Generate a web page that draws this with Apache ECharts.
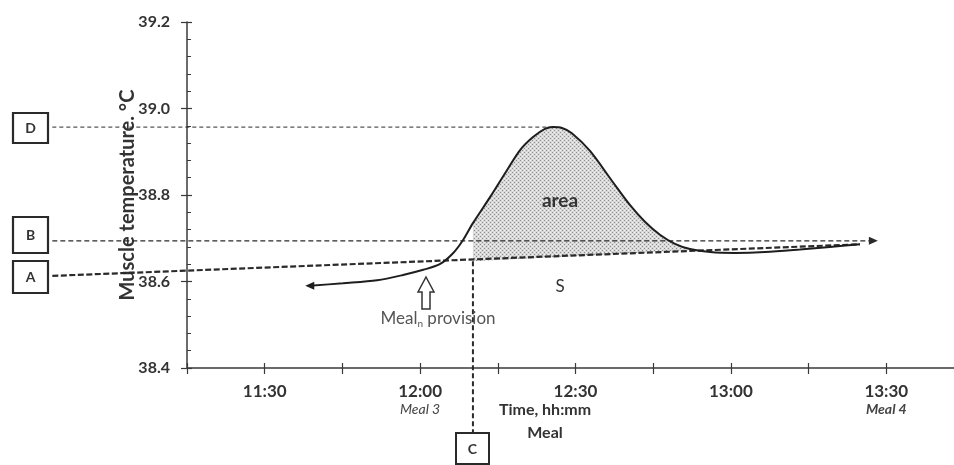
<!DOCTYPE html>
<html><head><meta charset="utf-8">
<script src="https://cdn.jsdelivr.net/npm/echarts@6/dist/echarts.min.js"></script>
<style>html,body{margin:0;padding:0;background:#fff}#c{width:954px;height:465px}</style>
</head><body><div id="c"></div>
<script>
// Times are minutes since midnight (675 = 11:15)
const curveTimes  = [698.7, 705.1, 711.7, 716.7, 720.6, 723.8, 726.4, 728.3, 730.2, 733.5, 736.8, 739.3, 741.8, 744.1, 745.7, 747.4, 749.3, 752.8, 757.2, 760.5, 763.4, 766.3, 769.2, 772.1, 776.0, 780.8, 786.6, 793.3, 799.1, 804.9];
const curveValues = [38.590, 38.596, 38.603, 38.615, 38.627, 38.640, 38.666, 38.696, 38.735, 38.795, 38.858, 38.904, 38.934, 38.953, 38.957, 38.955, 38.943, 38.902, 38.830, 38.777, 38.738, 38.708, 38.687, 38.675, 38.668, 38.666, 38.668, 38.674, 38.680, 38.686];
const baselineTimes  = [649, 804.9];      // line A -> S
const baselineValues = [38.613, 38.686];
const levelBTimes = [649, 807.5];
const levelBValue = 38.694;
const levelDTimes = [649, 745.7];
const levelDValue = 38.957;
const cTime = 730.2;
const cValues = [38.647, 38.25];
const shadeRange = [730.2, 772.1];
const shadeBaseValues = [38.647, 38.672];
const tickLabelTimes = [690, 720, 750, 780, 810];
const tickLabels = ['11:30', '12:00', '12:30', '13:00', '13:30'];
const mealNotes = ['', 'Meal 3', '', '', 'Meal 4'];

const FONT = 'Lato, "Open Sans", sans-serif';
const DARK = '#333333';
const AX = '#3a3a3a';

// layout
const W = 954, GL = 187, GR = -10, GT = 22, GB = 97;
const X_MIN = 675, X_MAX = 825, X_EXT_MIN = 645;
const pxPerMin = (W - GR - GL) / (X_MAX - X_MIN);
const GL_EXT = GL - (X_MIN - X_EXT_MIN) * pxPerMin;

// stipple pattern
const pc = document.createElement('canvas');
pc.width = 4; pc.height = 4;
const pctx = pc.getContext('2d');
pctx.fillStyle = '#d8d8d8'; pctx.fillRect(0, 0, 4, 4);
pctx.fillStyle = '#8e8e8e'; pctx.fillRect(0, 0, 1, 1); pctx.fillRect(2, 2, 1, 1);
pctx.fillStyle = '#f2f2f2'; pctx.fillRect(2, 0, 1, 1); pctx.fillRect(0, 2, 1, 1);
const pattern = { image: pc, repeat: 'repeat' };

const chart = echarts.init(document.getElementById('c'));

function xLabel(v) {
  const i = tickLabelTimes.findIndex(t => Math.abs(t - v) < 0.01);
  if (i < 0) return '';
  let s = '{t|' + tickLabels[i] + '}';
  if (mealNotes[i]) s += '\n{' + (i === 4 ? 'm4' : 'm') + '|' + mealNotes[i] + '}';
  else s += '\n{m| }';
  return s;
}

const curveData = curveTimes.map((t, i) => [t, curveValues[i]]);
const hiddenAxis = { show: false, axisLine: { show: false }, axisTick: { show: false }, axisLabel: { show: false }, splitLine: { show: false } };

chart.setOption({
  animation: false,
  backgroundColor: '#fff',
  grid: [
    { left: GL, right: GR, top: GT, bottom: GB, containLabel: false, outerBoundsMode: 'none' },
    { left: GL_EXT, right: GR, top: GT, bottom: GB, containLabel: false, outerBoundsMode: 'none' }
  ],
  xAxis: [
    {
      type: 'value', min: X_MIN, max: X_MAX, interval: 15, position: 'bottom', gridIndex: 0,
      axisLine: { show: true, lineStyle: { color: AX, width: 1.5 } },
      axisTick: { show: true, inside: false, length: 6, lineStyle: { color: AX, width: 1.2 } },
      axisLabel: {
        margin: 13, formatter: xLabel, showMinLabel: true, showMaxLabel: true, hideOverlap: false,
        rich: {
          t: { fontFamily: FONT, fontWeight: 'bold', fontSize: 17, color: DARK, lineHeight: 21 },
          m: { fontFamily: FONT, fontStyle: 'italic', fontSize: 14, color: '#444', lineHeight: 14 },
          m4: { fontFamily: FONT, fontStyle: 'italic', fontWeight: 'bold', fontSize: 14, color: '#444', lineHeight: 14 }
        }
      },
      splitLine: { show: false }
    },
    {
      type: 'value', min: X_MIN, max: X_MAX, interval: 15, position: 'bottom', gridIndex: 0,
      axisLine: { show: false },
      axisTick: { show: true, inside: true, length: 5, lineStyle: { color: AX, width: 1.2 } },
      axisLabel: { show: false },
      splitLine: { show: false }
    },
    Object.assign({ type: 'value', min: X_EXT_MIN, max: X_MAX, interval: 15, gridIndex: 1 }, hiddenAxis)
  ],
  yAxis: [
    {
      type: 'value', min: 38.4, max: 39.2, interval: 0.2, position: 'left', gridIndex: 0,
      axisLine: { show: true, lineStyle: { color: AX, width: 1.5 } },
      axisTick: { show: true, inside: false, length: 6, lineStyle: { color: AX, width: 1.2 } },
      axisLabel: { margin: 17, formatter: v => v.toFixed(1), fontFamily: FONT, fontWeight: 'bold', fontSize: 16, color: DARK },
      splitLine: { show: false },
      name: 'Muscle temperature. °C', nameLocation: 'middle', nameGap: 49, nameRotate: 90, nameMoveOverlap: false,
      nameTextStyle: { fontFamily: FONT, fontWeight: 'bold', fontSize: 20, color: DARK }
    },
    {
      type: 'value', min: 38.4, max: 39.2, interval: 0.2, position: 'left', offset: 0, gridIndex: 0,
      axisLine: { show: false },
      axisTick: { show: true, inside: true, length: 5, lineStyle: { color: AX, width: 1.2 } },
      minorTick: { show: true, splitNumber: 5, length: 4, lineStyle: { color: AX, width: 1 } },
      axisLabel: { show: false },
      splitLine: { show: false }
    },
    Object.assign({ type: 'value', min: 38.4, max: 39.2, interval: 0.2, gridIndex: 1 }, hiddenAxis)
  ],
  series: [
    {
      type: 'custom', name: 'area', z: 1, silent: true,
      data: [[shadeRange[0], shadeBaseValues[0]]],
      renderItem: (params, api) => {
        const pts = [];
        for (let i = 0; i < curveTimes.length; i++) {
          if (curveTimes[i] >= shadeRange[0] - 1e-6 && curveTimes[i] <= shadeRange[1] + 1e-6) {
            pts.push(api.coord([curveTimes[i], curveValues[i]]));
          }
        }
        pts.push(api.coord([shadeRange[1], shadeBaseValues[1]]));
        pts.push(api.coord([shadeRange[0], shadeBaseValues[0]]));
        return { type: 'polygon', shape: { points: pts }, style: { fill: pattern } };
      }
    },
    {
      type: 'line', name: 'S', z: 3, clip: false, silent: true, symbol: 'none',
      xAxisIndex: 2, yAxisIndex: 2,
      data: baselineTimes.map((t, i) => [t, baselineValues[i]]),
      lineStyle: { color: '#2a2a2a', width: 2.2, type: [6, 2.5] }
    },
    {
      type: 'line', name: 'B', z: 3, clip: false, silent: true,
      xAxisIndex: 2, yAxisIndex: 2,
      data: levelBTimes.map(t => [t, levelBValue]),
      showSymbol: true, showAllSymbol: true,
      symbol: (v, p) => p.dataIndex === levelBTimes.length - 1 ? 'triangle' : 'none',
      symbolSize: [8, 9], symbolRotate: -90,
      itemStyle: { color: '#2a2a2a' },
      lineStyle: { color: '#2a2a2a', width: 1.3, type: [5, 3] }
    },
    {
      type: 'line', name: 'D', z: 3, clip: false, silent: true, symbol: 'none',
      xAxisIndex: 2, yAxisIndex: 2,
      data: levelDTimes.map(t => [t, levelDValue]),
      lineStyle: { color: '#2a2a2a', width: 1, type: [4, 3] }
    },
    {
      type: 'line', name: 'C', z: 3, clip: false, silent: true, symbol: 'none',
      data: cValues.map(v => [cTime, v]),
      lineStyle: { color: '#2a2a2a', width: 2, type: [5, 3] }
    },
    {
      type: 'line', name: 'temperature', z: 4, clip: false, silent: true,
      data: curveData, smooth: 0.3,
      showSymbol: true, showAllSymbol: true,
      symbol: (v, p) => p.dataIndex === 0 ? 'triangle' : 'none',
      symbolSize: [8, 9], symbolRotate: 90,
      itemStyle: { color: '#1e1e1e' },
      lineStyle: { color: '#1e1e1e', width: 2 }
    }
  ],
  graphic: [
    // letter boxes
    { type: 'rect', z: 20, shape: { x: 13, y: 113, width: 35, height: 30 }, style: { fill: '#fff', stroke: '#2a2a2a', lineWidth: 2.2 } },
    { type: 'text', z: 21, style: { x: 30.5, y: 128, text: 'D', font: 'bold 14px ' + FONT, fill: DARK, align: 'center', verticalAlign: 'middle' } },
    { type: 'rect', z: 20, shape: { x: 13, y: 217, width: 35, height: 36 }, style: { fill: '#fff', stroke: '#2a2a2a', lineWidth: 2.2 } },
    { type: 'text', z: 21, style: { x: 30.5, y: 235, text: 'B', font: 'bold 14px ' + FONT, fill: DARK, align: 'center', verticalAlign: 'middle' } },
    { type: 'rect', z: 20, shape: { x: 13, y: 261, width: 35, height: 32 }, style: { fill: '#fff', stroke: '#2a2a2a', lineWidth: 2.2 } },
    { type: 'text', z: 21, style: { x: 30.5, y: 277, text: 'A', font: 'bold 14px ' + FONT, fill: DARK, align: 'center', verticalAlign: 'middle' } },
    { type: 'rect', z: 20, shape: { x: 456, y: 433, width: 33, height: 31 }, style: { fill: '#fff', stroke: '#2a2a2a', lineWidth: 2 } },
    { type: 'text', z: 21, style: { x: 472.5, y: 449, text: 'C', font: 'bold 14px ' + FONT, fill: DARK, align: 'center', verticalAlign: 'middle' } },
    // meal provision arrow
    { type: 'polygon', z: 10, shape: { points: [[426, 277], [434, 292], [430, 292], [430, 309], [422, 309], [422, 292], [418, 292]] },
      style: { fill: '#fff', stroke: '#333', lineWidth: 1.5 } },
    { type: 'text', z: 10, style: { x: 438, y: 319, text: '{a|Meal}{s|n}{a| provision}', align: 'center', verticalAlign: 'middle',
      rich: { a: { fontFamily: FONT, fontSize: 17, fill: '#555', lineHeight: 20 }, s: { fontFamily: FONT, fontSize: 10, fill: '#555', lineHeight: 9, verticalAlign: 'bottom' } } } },
    { type: 'text', z: 10, style: { x: 560, y: 201, text: 'area', font: 'bold 19px ' + FONT, fill: DARK, align: 'center', verticalAlign: 'middle' } },
    { type: 'text', z: 10, style: { x: 560, y: 287, text: 'S', font: '17px ' + FONT, fill: DARK, align: 'center', verticalAlign: 'middle' } },
    { type: 'text', z: 10, style: { x: 545, y: 410, text: 'Time, hh:mm', font: 'bold 16px ' + FONT, fill: DARK, align: 'center', verticalAlign: 'middle' } },
    { type: 'text', z: 10, style: { x: 545, y: 433, text: 'Meal', font: 'bold 16px ' + FONT, fill: DARK, align: 'center', verticalAlign: 'middle' } }
  ]
});
</script>
</body></html>
